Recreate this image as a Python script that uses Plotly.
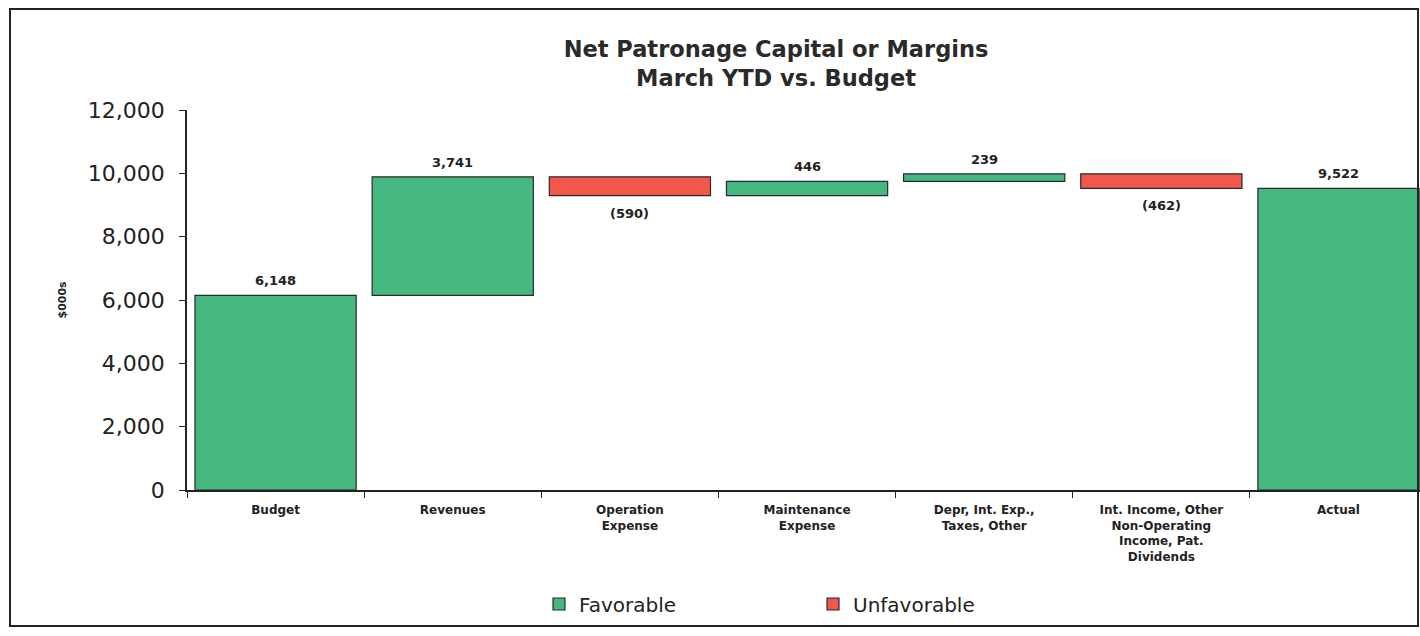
import plotly.graph_objects as go

# Waterfall data ($000s)
categories = [
    "Budget",
    "Revenues",
    "Operation<br>Expense",
    "Maintenance<br>Expense",
    "Depr, Int. Exp.,<br>Taxes, Other",
    "Int. Income, Other<br>Non-Operating<br>Income, Pat.<br>Dividends",
    "Actual",
]
budget_value = 6148
variances = [3741, -590, 446, 239, -462]
actual_value = 9522

GREEN = "#45b880"
RED = "#f0584c"
EDGE = "#2a2a2a"
FONT = "DejaVu Sans, Arial, sans-serif"

# Build floating segments: (category, base, height, signed value)
segments = [(categories[0], 0, budget_value, budget_value)]
running = budget_value
for cat, v in zip(categories[1:-1], variances):
    lo = min(running, running + v)
    segments.append((cat, lo, abs(v), v))
    running += v
segments.append((categories[-1], 0, actual_value, actual_value))

fav = [s for s in segments if s[3] >= 0]
unf = [s for s in segments if s[3] < 0]

fig = go.Figure()
fig.add_trace(go.Bar(
    name="Favorable",
    x=[s[0] for s in fav], y=[s[2] for s in fav], base=[s[1] for s in fav],
    marker=dict(color=GREEN, line=dict(color=EDGE, width=1.2)),
    width=0.91,
))
fig.add_trace(go.Bar(
    name="Unfavorable",
    x=[s[0] for s in unf], y=[s[2] for s in unf], base=[s[1] for s in unf],
    marker=dict(color=RED, line=dict(color=EDGE, width=1.2)),
    width=0.91,
))

# Value labels: above favorable bars, below unfavorable ones
for cat, base, h, v in segments:
    if v >= 0:
        fig.add_annotation(x=cat, y=base + h, text=f"<b>{v:,}</b>", showarrow=False,
                           yanchor="bottom", yshift=5,
                           font=dict(family=FONT, size=13, color="#222"))
    else:
        fig.add_annotation(x=cat, y=base, text=f"<b>({abs(v):,})</b>", showarrow=False,
                           yanchor="top", yshift=-8,
                           font=dict(family=FONT, size=13, color="#222"))

W, H = 1420, 636
L, R, T, B = 187, 0, 110, 146
pw, ph = W - L - R, H - T - B


def px_x(x):
    return (x - L) / pw


def px_y(y):
    return (H - B - y) / ph


# Y axis title
fig.add_annotation(x=px_x(53), y=px_y(300), xref="paper", yref="paper",
                   text="<b>$000s</b>", textangle=-90, showarrow=False,
                   font=dict(family=FONT, size=11, color="#222"))

# Outer frame
fig.add_shape(type="rect", xref="paper", yref="paper",
              x0=px_x(10), x1=px_x(1418), y0=px_y(626), y1=px_y(9),
              line=dict(color="#222", width=2), fillcolor="rgba(0,0,0,0)")

fig.update_layout(
    width=W, height=H,
    margin=dict(l=L, r=R, t=T, b=B),
    paper_bgcolor="white", plot_bgcolor="white",
    barmode="overlay",
    title=dict(
        text="<b>Net Patronage Capital or Margins<br>March YTD vs. Budget</b>",
        x=px_x(776), xref="paper", xanchor="center",
        y=1 - 57 / H, yanchor="middle",
        font=dict(family=FONT, size=22.5, color="#2a2a2a"),
    ),
    font=dict(family=FONT, color="#222"),
    showlegend=True,
    legend=dict(
        orientation="h", x=px_x(539), y=px_y(604),
        xanchor="left", yanchor="middle",
        entrywidth=229, entrywidthmode="pixels",
        font=dict(family=FONT, size=20, color="#222"),
        bgcolor="rgba(0,0,0,0)",
    ),
    xaxis=dict(
        type="category", categoryorder="array", categoryarray=categories,
        range=[-0.5, 6.46],
        showline=True, linecolor="#222", linewidth=1.5,
        ticks="outside", tickson="boundaries", ticklen=6, tickcolor="#222",
        tickfont=dict(family=FONT, size=12, color="#222", weight="bold"),
        ticklabelstandoff=8,
        showgrid=False, zeroline=False,
    ),
    yaxis=dict(
        range=[0, 12000], tickvals=[0, 2000, 4000, 6000, 8000, 10000, 12000],
        tickformat=",d",
        showline=True, linecolor="#222", linewidth=1.5,
        ticks="outside", ticklen=6, tickcolor="#222",
        tickfont=dict(family=FONT, size=22, color="#222"),
        ticklabelstandoff=10,
        showgrid=False, zeroline=False,
    ),
)

fig.write_html("out.html")
